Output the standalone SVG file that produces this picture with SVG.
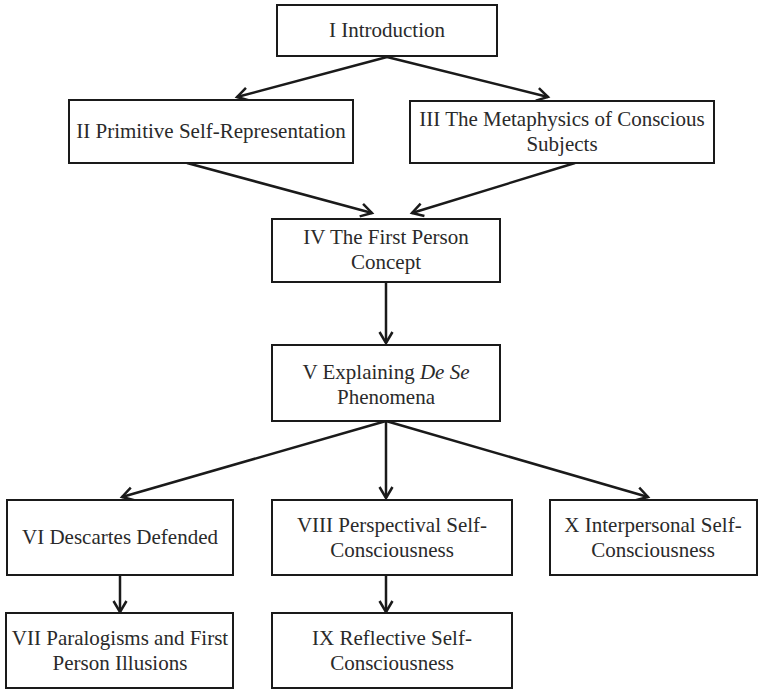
<svg xmlns="http://www.w3.org/2000/svg" width="762" height="690" viewBox="0 0 762 690">
<style>
.box{fill:#fff;stroke:#1a1a1a;stroke-width:2}
.t{font-family:"Liberation Serif","Times New Roman",serif;font-size:21px;fill:#2a2a2a;text-anchor:middle}
.c{stroke:#1a1a1a;stroke-width:2.5;fill:none;marker-end:url(#ah)}
</style>
<defs>
<marker id="ah" markerUnits="userSpaceOnUse" markerWidth="20" markerHeight="20" refX="0" refY="0" viewBox="-14 -10 16 20" orient="auto">
<path d="M-11,-6.5 L0,0 L-11,6.5" fill="none" stroke="#1a1a1a" stroke-width="2.5"/>
</marker>
</defs>
<rect width="762" height="690" fill="#fff"/>
<g id="connectors">
<line class="c" x1="387" y1="57" x2="237" y2="97"/>
<line class="c" x1="387" y1="57" x2="548" y2="97"/>
<line class="c" x1="187" y1="163" x2="372" y2="213"/>
<line class="c" x1="575" y1="163" x2="412" y2="213"/>
<line class="c" x1="386" y1="282" x2="386" y2="343"/>
<line class="c" x1="386" y1="421" x2="122" y2="497"/>
<line class="c" x1="386" y1="421" x2="386" y2="498"/>
<line class="c" x1="386" y1="421" x2="648" y2="497"/>
<line class="c" x1="120" y1="575" x2="120" y2="612"/>
<line class="c" x1="386" y1="575" x2="386" y2="612"/>
</g>
<g id="n1"><rect class="box" x="277" y="5" width="220" height="51"/><text class="t" x="387" y="37">I Introduction</text></g>
<g id="n2"><rect class="box" x="69" y="100" width="284" height="63"/><text class="t" x="211" y="138">II Primitive Self-Representation</text></g>
<g id="n3"><rect class="box" x="410" y="101" width="304" height="62"/><text class="t" x="562" y="126">III The Metaphysics of Conscious</text><text class="t" x="562" y="151">Subjects</text></g>
<g id="n4"><rect class="box" x="272" y="219" width="228" height="63"/><text class="t" x="386" y="244">IV The First Person</text><text class="t" x="386" y="269">Concept</text></g>
<g id="n5"><rect class="box" x="272" y="345" width="228" height="76"/><text class="t" x="386" y="379">V Explaining <tspan font-style="italic">De Se</tspan></text><text class="t" x="386" y="404">Phenomena</text></g>
<g id="n6"><rect class="box" x="7" y="500" width="226" height="75"/><text class="t" x="120" y="544">VI Descartes Defended</text></g>
<g id="n8"><rect class="box" x="272" y="500" width="240" height="75"/><text class="t" x="392" y="532">VIII Perspectival Self-</text><text class="t" x="392" y="557">Consciousness</text></g>
<g id="n10"><rect class="box" x="550" y="500" width="207" height="75"/><text class="t" x="653" y="532">X Interpersonal Self-</text><text class="t" x="653" y="557">Consciousness</text></g>
<g id="n7"><rect class="box" x="6" y="613" width="227" height="75"/><text class="t" x="120" y="645">VII Paralogisms and First</text><text class="t" x="120" y="670">Person Illusions</text></g>
<g id="n9"><rect class="box" x="272" y="613" width="240" height="75"/><text class="t" x="392" y="645">IX Reflective Self-</text><text class="t" x="392" y="670">Consciousness</text></g>
</svg>
